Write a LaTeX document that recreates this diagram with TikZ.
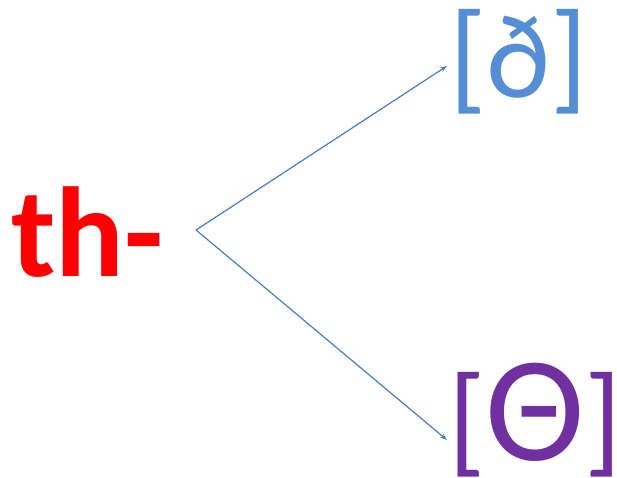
\documentclass[tikz,border=0pt]{standalone}
\usepackage{fontspec}
\setmainfont{Carlito}
\usetikzlibrary{arrows.meta}
\definecolor{arrowblue}{HTML}{4A7EBB}
\definecolor{ipablue}{HTML}{558ED5}
\definecolor{ipapurple}{HTML}{7030A0}
\begin{document}
\begin{tikzpicture}[x=1pt,y=-1pt,
  lbl/.style={inner sep=0pt,anchor=base west},
  conn/.style={draw=arrowblue,line width=1.2pt,-{Stealth[length=7pt,width=5pt]}}]
\useasboundingbox (0,0) rectangle (617,478);
\node[lbl,text=red,font=\fontsize{128}{128}\selectfont\bfseries] (th) at (11,276) {th-};
\node[lbl,text=ipablue,font=\fontsize{122}{122}\selectfont] (edh) at (449,98) {[ð]};
\node[lbl,text=ipapurple,font=\fontsize{122}{122}\selectfont] (theta) at (448,460) {[\scalebox{1.23}{Θ}]};
\coordinate (src) at (196,230);
\coordinate (topend) at (447,66);
\coordinate (botend) at (447,440);
\draw[conn] (src) -- (topend);
\draw[conn] (src) -- (botend);
\end{tikzpicture}
\end{document}
